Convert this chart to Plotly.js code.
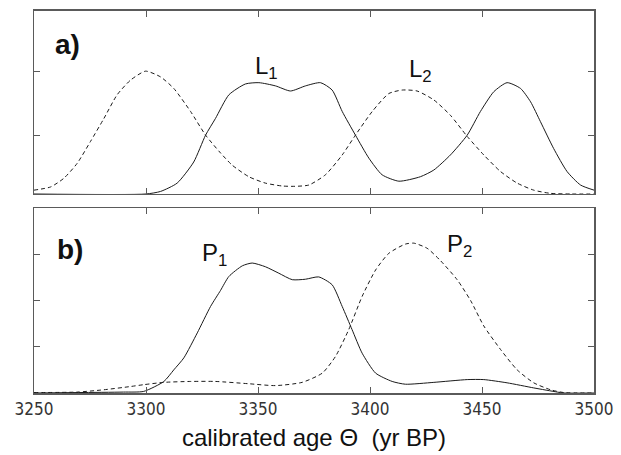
<!DOCTYPE html>
<html>
<head>
<meta charset="utf-8">
<script src="https://cdn.plot.ly/plotly-3.0.1.min.js"></script>
<style>
html,body{margin:0;padding:0;background:#fff;}
#chart{width:621px;height:455px;}
</style>
</head>
<body>
<div id="chart"></div>
<script>
// ---- Panel a) data (calibrated age, yr BP) ----
const aSolidAge = [3250,3300,3306.5,3313.9,3321.3,3326.6,3331,3337,3344.4,3350.4,3357.8,3364.5,3371.2,3377.9,3383.1,3387.6,3393.5,3399.5,3405.4,3412.9,3422.5,3428.5,3435.9,3443.4,3449.3,3455.3,3461.2,3467.2,3471.7,3476.1,3482,3488,3494,3500];
const aSolidVal = [0,0,0.04,0.17,0.50,0.92,1.18,1.55,1.72,1.74,1.69,1.61,1.69,1.74,1.625,1.29,0.92,0.56,0.30,0.20,0.27,0.375,0.61,0.92,1.29,1.60,1.74,1.65,1.44,1.13,0.71,0.35,0.14,0.06];

const aDashAge = [3250,3257.4,3263.3,3269.3,3275.2,3281.2,3287.1,3293.1,3299.8,3306.5,3312.4,3319.9,3326.6,3333.3,3338.5,3345.9,3353.3,3360.8,3366.5,3372.7,3380.1,3387.6,3393.5,3401,3408.4,3414.4,3421,3428.5,3435.9,3443.4,3450.8,3458.3,3465.7,3473.1,3480.6,3490,3500];
const aDashVal = [0.06,0.11,0.245,0.48,0.82,1.18,1.55,1.78,1.92,1.83,1.65,1.29,0.92,0.64,0.45,0.27,0.17,0.125,0.12,0.14,0.30,0.61,0.92,1.29,1.57,1.625,1.61,1.47,1.23,0.90,0.61,0.35,0.17,0.06,0.01,0.0,0.0];

// ---- Panel b) data ----
const bSolidAge = [3250,3270,3290,3299,3308,3312.4,3316.9,3322.9,3328.8,3333.3,3337,3343,3347.4,3353.3,3359.3,3365.3,3371.2,3377.1,3383.1,3387.6,3392,3396.5,3402.5,3409.9,3415.8,3428.5,3443.4,3450.8,3461.2,3473.1,3483.6,3486.5,3500];
const bSolidVal = [0,0.01,0.02,0.035,0.25,0.50,0.76,1.30,1.87,2.22,2.52,2.75,2.81,2.73,2.59,2.45,2.46,2.51,2.34,1.87,1.37,0.86,0.43,0.25,0.19,0.23,0.29,0.29,0.22,0.11,0.02,0,0];

const bDashAge = [3250,3269.3,3281.2,3293.1,3299,3308,3319.9,3331,3345.9,3357.8,3369.7,3378.7,3384.6,3390.5,3396.5,3402.5,3408.4,3415.8,3419.6,3425.5,3431.5,3438.9,3444.9,3450.8,3458.3,3465.7,3473.1,3480.6,3486.5,3500];
const bDashVal = [0.01,0.02,0.07,0.14,0.18,0.23,0.25,0.25,0.20,0.16,0.23,0.43,0.79,1.37,2.09,2.66,3.02,3.22,3.24,3.13,2.86,2.45,2.0,1.45,0.94,0.50,0.22,0.07,0.01,0];

// ---- axes / labels ----
const xTickVals = [3250,3300,3350,3400,3450,3500];
const xTickText = ["3250","3300","3350","3400","3450","3500"];
const aYTicks = [0.92,1.92];
const bYTicks = [1,2,3];
const xTitle = "calibrated age \u0398  (yr BP)";

const ink = '#1a1a1a';
const solid = {color: ink, width: 1.0, shape: 'spline', smoothing: 0.6};
const dashed = {color: ink, width: 1.0, dash: '4px,3px', shape: 'spline', smoothing: 0.6};

const traces = [
  {x: aSolidAge, y: aSolidVal, xaxis: 'x', yaxis: 'y', mode: 'lines', line: solid, hoverinfo: 'skip'},
  {x: aDashAge, y: aDashVal, xaxis: 'x', yaxis: 'y', mode: 'lines', line: dashed, hoverinfo: 'skip'},
  {x: bSolidAge, y: bSolidVal, xaxis: 'x2', yaxis: 'y2', mode: 'lines', line: solid, hoverinfo: 'skip'},
  {x: bDashAge, y: bDashVal, xaxis: 'x2', yaxis: 'y2', mode: 'lines', line: dashed, hoverinfo: 'skip'}
];

const axisLine = '#5a5a5a';
const baseX = {
  range: [3250, 3500], tickvals: xTickVals, ticktext: xTickText,
  ticks: 'inside', ticklen: 6, tickwidth: 1, tickcolor: axisLine,
  showline: true, linecolor: axisLine, linewidth: 1.5, mirror: 'ticks',
  showgrid: false, zeroline: false, fixedrange: true
};
const baseY = {
  ticks: 'inside', ticklen: 6, tickwidth: 1, tickcolor: axisLine,
  showline: true, linecolor: axisLine, linewidth: 1.5, mirror: 'ticks',
  showgrid: false, zeroline: false, showticklabels: false, fixedrange: true
};

const labelFont = {family: 'Arial, "Liberation Sans", sans-serif', size: 24, color: '#111'};
const tagFont = {family: 'Arial, "Liberation Sans", sans-serif', size: 28, color: '#111'};

const layout = {
  width: 621, height: 455,
  margin: {l: 34, r: 27, t: 10, b: 62},
  paper_bgcolor: '#fff', plot_bgcolor: '#fff',
  showlegend: false,
  xaxis: Object.assign({}, baseX, {anchor: 'y', showticklabels: false}),
  yaxis: Object.assign({}, baseY, {domain: [0.5196, 0.998], range: [0, 2.864], tickvals: aYTicks, anchor: 'x'}),
  xaxis2: Object.assign({}, baseX, {anchor: 'y2', showticklabels: true,
    tickfont: {family: '"DejaVu Sans Condensed", "Liberation Sans Narrow", sans-serif', size: 17, color: '#333'},
    title: {text: xTitle, standoff: 11, font: {family: 'Arial, "Liberation Sans", sans-serif', size: 24, color: '#111'}}}),
  yaxis2: Object.assign({}, baseY, {domain: [0, 0.483], range: [0, 4], tickvals: bYTicks, anchor: 'x2'}),
  annotations: [
    {xref: 'x', yref: 'y', x: 3265, y: 2.33, text: '<b>a)</b>', showarrow: false, font: tagFont},
    {xref: 'x2', yref: 'y2', x: 3266, y: 3.1, text: '<b>b)</b>', showarrow: false, font: tagFont},
    {xref: 'x', yref: 'y', x: 3354, y: 1.97, text: 'L<sub>1</sub>', showarrow: false, font: labelFont},
    {xref: 'x', yref: 'y', x: 3422.5, y: 1.93, text: 'L<sub>2</sub>', showarrow: false, font: labelFont},
    {xref: 'x2', yref: 'y2', x: 3330.4, y: 3.0, text: 'P<sub>1</sub>', showarrow: false, font: labelFont},
    {xref: 'x2', yref: 'y2', x: 3440, y: 3.2, text: 'P<sub>2</sub>', showarrow: false, font: labelFont}
  ]
};

Plotly.newPlot('chart', traces, layout, {staticPlot: true, displayModeBar: false});
</script>
</body>
</html>
